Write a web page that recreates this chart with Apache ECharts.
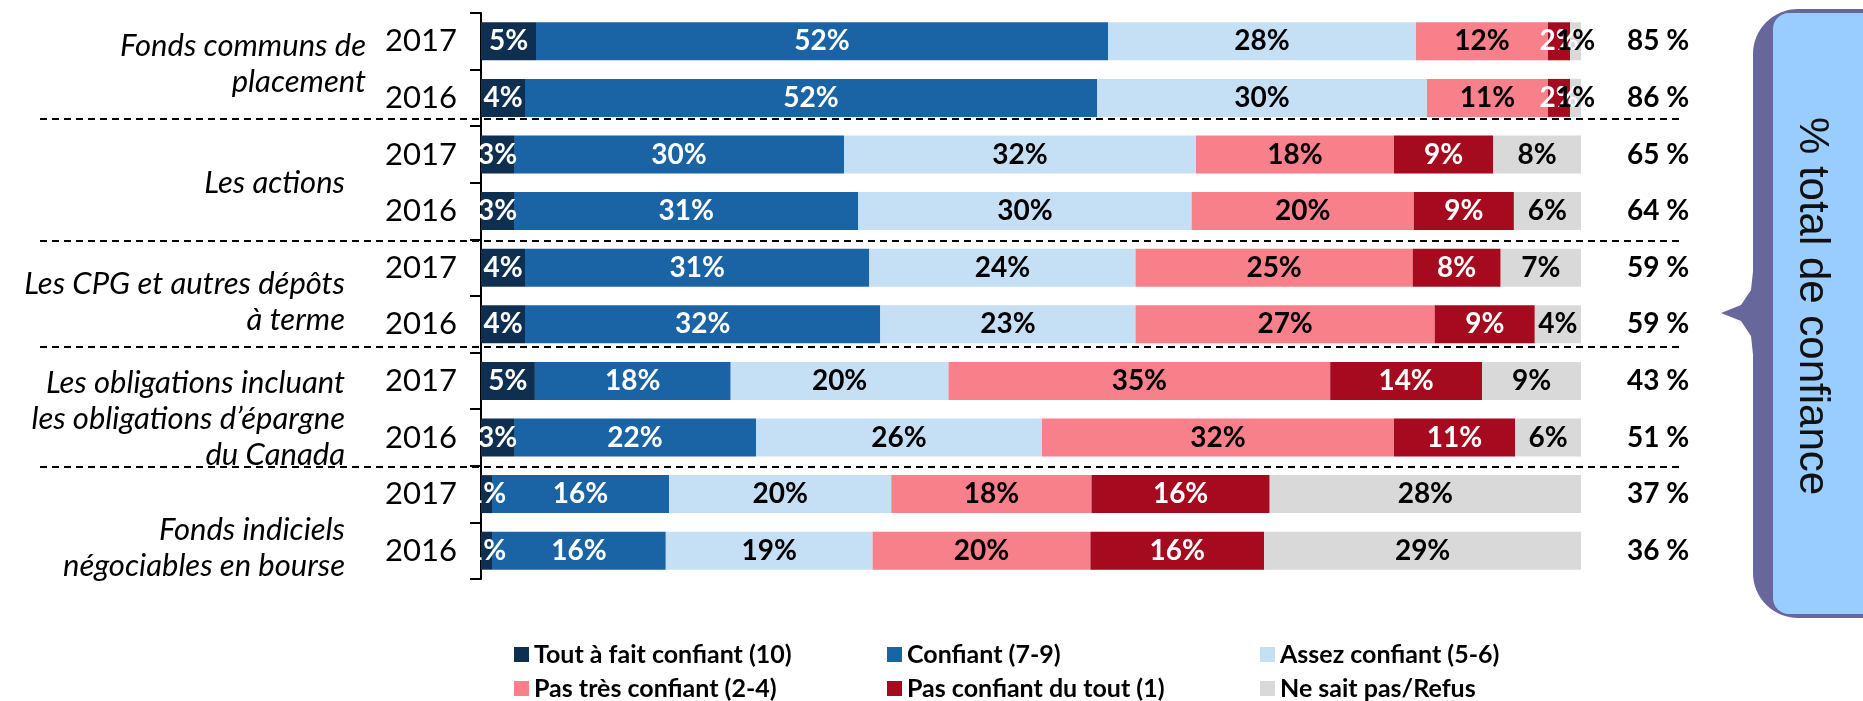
<!DOCTYPE html>
<html>
<head>
<meta charset="utf-8">
<script src="https://cdn.jsdelivr.net/npm/echarts@6/dist/echarts.min.js"></script>
<style>
  html, body { margin: 0; padding: 0; background: #fff; }
  #chart { width: 1863px; height: 701px; }
</style>
</head>
<body>
<div id="chart"></div>
<script>
// catégories (une barre par année)
const years = ['2017', '2016', '2017', '2016', '2017', '2016', '2017', '2016', '2017', '2016']
const groups = [
  'Fonds communs de\nplacement',
  'Les actions',
  'Les CPG et autres dépôts\nà terme',
  'Les obligations incluant\nles obligations d’épargne\ndu Canada',
  'Fonds indiciels\nnégociables en bourse',
]
// % total de confiance (colonne de droite)
const totals = [85, 86, 65, 64, 59, 59, 43, 51, 37, 36]

const seriesNames = [
  'Tout à fait confiant (10)',
  'Confiant (7-9)',
  'Assez confiant (5-6)',
  'Pas très confiant (2-4)',
  'Pas confiant du tout (1)',
  'Ne sait pas/Refus',
]
const toutAFait = [5, 4, 3, 3.0, 4.0, 4.0, 4.9, 3.0, 1.0, 1.0]
const confiant = [52, 52, 30, 31.3, 31.3, 32.3, 17.8, 22.0, 16.1, 15.8]
const assez = [28, 30, 32, 30.3, 24.2, 23.2, 19.8, 26.0, 20.2, 18.8]
const pasTres = [12, 11, 18, 20.2, 25.2, 27.2, 34.7, 32.0, 18.2, 19.8]
const pasDuTout = [2, 2, 9, 9.1, 8.0, 9.1, 13.8, 11.0, 16.2, 15.8]
const nsp = [1, 1, 8, 6.1, 7.3, 4.2, 9.0, 6.0, 28.3, 28.8]

const seriesData = [toutAFait, confiant, assez, pasTres, pasDuTout, nsp]
const colors = ['#0F2F50', '#1A63A5', '#C5DFF5', '#F7808B', '#A50A1F', '#D9D9D9']
const labelColors = ['#fff', '#fff', '#000', '#000', '#fff', '#000']

const FONT = 'Lato, "Open Sans", sans-serif'

const chart = echarts.init(document.getElementById('chart'))

const groupLabelPos = [
  { x: 366, y: 64 },
  { x: 345, y: 183 },
  { x: 345, y: 302 },
  { x: 345, y: 419 },
  { x: 345, y: 548 },
]
const separatorY = [119, 241, 347, 467]

const graphics = []
separatorY.forEach((y) => {
  graphics.push({
    type: 'line',
    shape: { x1: 40, y1: y, x2: 1684, y2: y },
    style: { stroke: '#000', lineWidth: 2, lineDash: [7, 5] },
    silent: true,
  })
})
groups.forEach((g, i) => {
  graphics.push({
    type: 'text',
    x: groupLabelPos[i].x,
    y: groupLabelPos[i].y,
    style: {
      text: g,
      align: 'right',
      verticalAlign: 'middle',
      fontFamily: FONT,
      fontStyle: 'italic',
      fontSize: 31,
      lineHeight: 36,
      fill: '#000',
    },
  })
})
// accolade + encadré "% total de confiance"
graphics.push({
  type: 'rect',
  shape: { x: 1753, y: 9, width: 150, height: 609, r: [45, 0, 0, 45] },
  style: { fill: '#67679B' },
})
graphics.push({
  type: 'polygon',
  shape: {
    points: [[1754, 262], [1751, 290], [1741, 305], [1721, 313], [1741, 321], [1751, 336], [1754, 364]],
  },
  style: { fill: '#67679B' },
})
graphics.push({
  type: 'rect',
  shape: { x: 1773, y: 13, width: 120, height: 601, r: 16 },
  style: { fill: '#99CCFF' },
})
graphics.push({
  type: 'text',
  x: 1812,
  y: 306,
  rotation: -Math.PI / 2,
  style: {
    text: '% total de confiance',
    align: 'center',
    verticalAlign: 'middle',
    fontFamily: '"Liberation Sans", Arial, sans-serif',
    fontSize: 42,
    fill: '#111',
  },
})

const option = {
  animation: false,
  backgroundColor: '#fff',
  color: colors,
  grid: {
    left: 481,
    right: 282,
    top: 13,
    bottom: 122,
  },
  legend: {
    data: seriesNames,
    left: 514,
    top: 642,
    width: 1115,
    padding: 0,
    itemWidth: 15,
    itemHeight: 15,
    itemGap: 9,
    icon: 'rect',
    textStyle: {
      fontFamily: FONT,
      fontWeight: 'bold',
      fontSize: 25,
      lineHeight: 22,
      width: 344,
      color: '#000',
    },
  },
  xAxis: {
    type: 'value',
    min: 0,
    max: 100,
    show: false,
  },
  yAxis: [
    {
      type: 'category',
      inverse: true,
      data: years,
      axisLine: { lineStyle: { color: '#000', width: 2 } },
      axisTick: { show: true, length: 11, lineStyle: { color: '#000', width: 2 } },
      axisLabel: {
        margin: 24,
        fontFamily: FONT,
        fontSize: 31,
        color: '#000',
      },
    },
    {
      type: 'category',
      inverse: true,
      position: 'right',
      data: totals.map((v) => v + ' %'),
      axisLine: { show: false },
      axisTick: { show: false },
      axisLabel: {
        margin: 46,
        fontFamily: FONT,
        fontWeight: 'bold',
        fontSize: 28,
        color: '#000',
      },
    },
  ],
  series: seriesNames.map((name, i) => ({
    name,
    type: 'bar',
    stack: 'total',
    barWidth: 38,
    yAxisIndex: 0,
    itemStyle: { color: colors[i] },
    label: {
      show: true,
      position: 'inside',
      formatter: (p) => Math.round(p.value) + '%',
      color: labelColors[i],
      fontFamily: FONT,
      fontWeight: 'bold',
      fontSize: 28,
      textBorderWidth: 0,
    },
    data: seriesData[i],
  })),
  graphic: graphics,
}

chart.setOption(option)
</script>
</body>
</html>
